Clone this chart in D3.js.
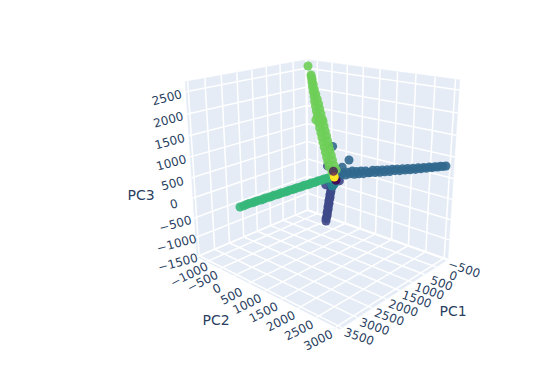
<!DOCTYPE html><html><head><meta charset="utf-8"><style>html,body{margin:0;background:#fff}svg{display:block}text{font-family:"DejaVu Sans",sans-serif;fill:#2a3f5f}</style></head><body>
<svg id="c" width="545" height="385"></svg>
<script src="https://cdn.jsdelivr.net/npm/d3@7"></script>
<script>
const pc1Ticks=[-500,0,500,1000,1500,2000,2500,3000,3500];
const pc2Ticks=[-1000,-500,0,500,1000,1500,2000,2500,3000];
const pc3Ticks=[-1500,-1000,-500,0,500,1000,1500,2000,2500];
const pc1Range=[-530,3570],pc2Range=[-1375,3100],pc3Range=[-1500,2720];

// cluster 3 (steel blue) — [PC1, PC2, PC3]
const steelPoints=[[0,504,499],[0,-30,741],[0,290,265],[0,120,30],[0,190,90],[10,260,60],[0,330,130],[0,400,85],[-10,470,170],[0,540,150],[0,610,235],[0,680,170],[10,750,260],[0,820,215],[0,890,300],[0,960,250],[0,1030,330],[-10,1100,300],[0,1170,325],[0,1240,400],[0,1310,360],[10,1380,435],[0,1450,395],[0,1520,470],[0,1590,440],[0,1660,505],[0,1730,480],[0,1800,550],[-10,1870,530],[0,1940,590],[0,2010,565],[0,2080,625],[0,2150,610],[0,2220,665],[0,2290,650],[0,2360,700],[0,2430,690],[0,2500,745],[0,2570,735],[0,2640,785],[0,2710,780],[0,2780,825],[0,2850,825],[0,2920,860],[0,2990,870],[0,3060,905],[0,3125,915],[0,3192,940]];
// cluster 2 (indigo)
const indigoPoints=[[0,-200,190],[0,-260,-335],[0,200,-120],[20,0,-110],[30,10,-170],[50,20,-220],[65,-10,-270],[80,10,-320],[90,-10,-370],[110,10,-420],[120,0,-470],[130,-10,-520],[145,10,-570],[160,0,-620],[170,-10,-670],[185,10,-720],[195,0,-770],[205,-10,-820],[220,10,-870],[230,0,-920],[240,-10,-970],[255,10,-1020],[265,0,-1070],[280,-10,-1120],[297,0,-1181]];
// cluster 4 (teal)
const tealPoints=[[0,-45,-317],[0,-105,-220],[0,-75,-80],[0,0,-280],[0,-60,-250],[0,40,-230]];
// cluster 6 (green)
const greenPoints=[[138,0,-54],[220,10,-30],[310,-10,-30],[400,0,-20],[490,10,-25],[580,-10,-15],[670,0,-15],[760,10,-10],[850,-10,-5],[940,0,-5],[1030,10,0],[1120,-10,5],[1210,0,5],[1300,10,10],[1390,-10,15],[1480,0,15],[1570,10,20],[1660,-10,25],[1750,0,25],[1840,10,30],[1930,-10,35],[2020,0,35],[2110,10,40],[2200,-10,45],[2290,0,45],[2380,10,50],[2470,-10,55],[2560,0,55],[2650,10,60],[2740,-10,65],[2830,0,65],[2920,10,70],[3010,-10,70],[3100,0,75],[3190,5,75],[3302,0,77]];
// cluster 7 (light green)
const lightPoints=[[0,-857,2674],[0,-756,2459],[0,-745,2410],[-5,-725,2350],[5,-720,2290],[-10,-690,2230],[10,-700,2170],[-10,-655,2110],[15,-670,2050],[-15,-610,1990],[15,-640,1930],[-15,-560,1870],[20,-620,1810],[-20,-520,1750],[20,-590,1690],[-20,-480,1630],[20,-560,1570],[-20,-440,1510],[20,-530,1450],[-20,-400,1390],[30,-570,1340],[-20,-370,1330],[20,-480,1270],[-20,-335,1210],[20,-450,1150],[-20,-295,1090],[20,-410,1030],[-20,-255,970],[20,-375,910],[-20,-215,850],[20,-335,790],[-20,-175,730],[20,-295,670],[-20,-135,610],[20,-255,550],[-20,-90,490],[20,-215,430],[-20,-50,370],[20,-175,310],[-20,5,240],[20,-130,190],[0,90,150],[0,-48,61]];
// cluster 0 (dark purple), below and above the yellow point
const purpleLow=[[0,50,-85],[0,90,-130]];
const purpleTop=[[0,0,90]];
// cluster 9 (yellow)
const yellowPoints=[[0,30,-55]];

const series=[[2,indigoPoints,.9],[3,steelPoints,.9],[4,tealPoints,.9],[6,greenPoints,.9],[7,lightPoints,.9],[0,purpleLow,.9],[9,yellowPoints,1],[0,purpleTop,.7]];
const color=d3.scaleSequential(d3.interpolateViridis).domain([0,9]);

const sx=d3.scaleLinear(pc1Range,[-1,1]),sy=d3.scaleLinear(pc2Range,[-1,1]),sz=d3.scaleLinear(pc3Range,[-1,1]);
// camera: projective matrix fitted to the scene box corners
const anchors=[[1,-1,1,184.3,82.3],[-1,-1,1,308,60],[-1,1,1,459,79],[-1,1,-1,447.7,261],[1,1,-1,340.7,328.3],[1,-1,-1,197,257],[-1,-1,-1,307.3,209]];
function solve(A,b){const n=b.length;A=A.map((r,i)=>[...r,b[i]]);for(let i=0;i<n;i++){let m=i;for(let j=i;j<n;j++)if(Math.abs(A[j][i])>Math.abs(A[m][i]))m=j;[A[i],A[m]]=[A[m],A[i]];for(let j=0;j<n;j++)if(j!=i){const f=A[j][i]/A[i][i];for(let k=i;k<=n;k++)A[j][k]-=f*A[i][k];}}return A.map((r,i)=>r[n]/r[i]);}
const R=[],B=[];anchors.forEach(([x,y,z,u,v])=>{R.push([x,y,z,1,0,0,0,0,-u*x,-u*y,-u*z]);B.push(u);R.push([0,0,0,0,x,y,z,1,-v*x,-v*y,-v*z]);B.push(v);});
const p=solve(d3.range(11).map(i=>d3.range(11).map(j=>d3.sum(R,r=>r[i]*r[j]))),d3.range(11).map(i=>d3.sum(R,(r,k)=>r[i]*B[k])));
function cam(x,y,z){const w=p[8]*x+p[9]*y+p[10]*z+1;return[(p[0]*x+p[1]*y+p[2]*z+p[3])/w,(p[4]*x+p[5]*y+p[6]*z+p[7])/w];}
const proj=([a,b,c])=>cam(sx(a),sy(b),sz(c));

const svg=d3.select("#c");
const line=d3.line();
const [x0,x1]=pc1Range,[y0,y1]=pc2Range,[z0,z1]=pc3Range;
const walls=[[[x1,y0,z0],[x0,y0,z0],[x0,y0,z1],[x1,y0,z1]],[[x0,y0,z0],[x0,y1,z0],[x0,y1,z1],[x0,y0,z1]],[[x0,y0,z0],[x1,y0,z0],[x1,y1,z0],[x0,y1,z0]]];
svg.append("g").selectAll("path").data(walls).join("path").attr("d",d=>line(d.map(proj))+"Z").attr("fill","#e5ecf6").attr("stroke","#e5ecf6").attr("stroke-width",.5);
const grid=[];
pc1Ticks.forEach(t=>{grid.push([[t,y0,z0],[t,y0,z1]],[[t,y0,z0],[t,y1,z0]]);});
pc2Ticks.forEach(t=>{grid.push([[x0,t,z0],[x0,t,z1]],[[x0,t,z0],[x1,t,z0]]);});
pc3Ticks.forEach(t=>{grid.push([[x1,y0,t],[x0,y0,t]],[[x0,y0,t],[x0,y1,t]]);});
grid.push([[x0,y0,z0],[x0,y0,z1]],[[x0,y0,z0],[x1,y0,z0]],[[x0,y0,z0],[x0,y1,z0]]);
svg.append("g").selectAll("path").data(grid).join("path").attr("d",d=>line(d.map(proj))).attr("fill","none").attr("stroke","#fff").attr("stroke-width",1.5);

series.forEach(([c,pts,o])=>{
  svg.append("g").selectAll("circle").data(pts).join("circle")
    .attr("cx",d=>proj(d)[0]).attr("cy",d=>proj(d)[1]).attr("r",4.5)
    .attr("fill",color(c)).attr("fill-opacity",o);
});

const fmt=d3.format("d");
function labels(ticks,pos,rot,dx,dy){
  svg.append("g").selectAll("text").data(ticks).join("text").text(fmt)
    .attr("font-size",12).attr("text-anchor","middle").attr("dominant-baseline","central")
    .attr("transform",t=>{const q=proj(pos(t));return `translate(${q[0]+dx},${q[1]+dy}) rotate(${rot})`;});
}
labels(pc3Ticks,t=>[x1,y0,t],-15,-19,6);
labels(pc2Ticks,t=>[x1,t,z0],-27,-17.5,13);
labels(pc1Ticks,t=>[t,y1,z0],19,17,9);
[["PC1",453,311],["PC2",216,320],["PC3",141,195]].forEach(([s,x,y])=>svg.append("text").text(s).attr("x",x).attr("y",y).attr("font-size",14).attr("text-anchor","middle").attr("dominant-baseline","central"));
</script></body></html>
